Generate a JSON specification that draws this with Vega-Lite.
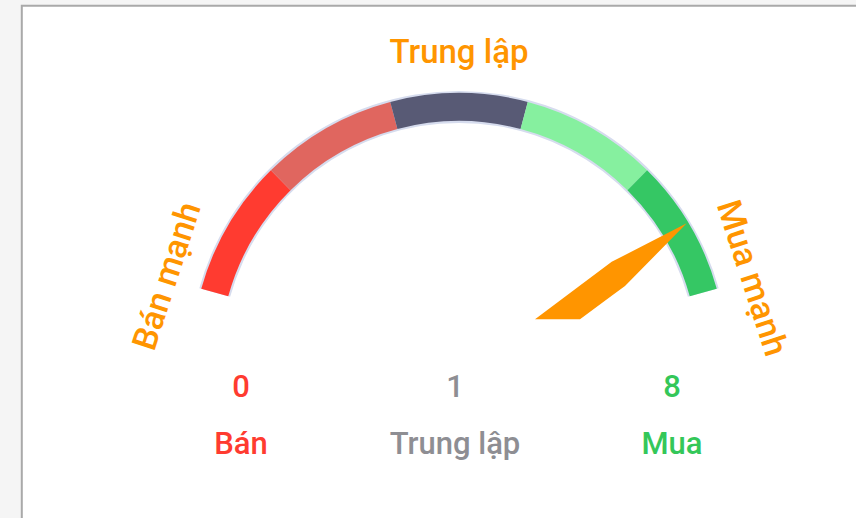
{
  "$schema": "https://vega.github.io/schema/vega-lite/v6.json",
  "width": 856,
  "height": 518,
  "autosize": "none",
  "padding": 0,
  "background": "#f5f5f5",
  "config": {"view": {"stroke": null}, "text": {"font": "Roboto"}},
  "datasets": {
    "card": [{"x1": -437.2, "x2": 430, "y1": 354.7, "y2": -180}],
    "track": [{"start": 0, "end": 5}],
    "segments": [
      {"zone": "Bán mạnh", "start": 0, "end": 1},
      {"zone": "Bán", "start": 1, "end": 2},
      {"zone": "Trung lập", "start": 2, "end": 3},
      {"zone": "Mua", "start": 3, "end": 4},
      {"zone": "Mua mạnh", "start": 4, "end": 5}
    ],
    "needle": [
      {"px": 76, "upper": 41.1, "lower": 41.1},
      {"px": 121, "upper": 74.9, "lower": 41.1},
      {"px": 152.7, "upper": 98.7, "lower": 64.6},
      {"px": 166, "upper": 105.5, "lower": 74.4},
      {"px": 227.7, "upper": 137.1, "lower": 137.1}
    ],
    "summary": [
      {"group": "Bán", "count": 0, "gx": -218},
      {"group": "Trung lập", "count": 1, "gx": -4},
      {"group": "Mua", "count": 8, "gx": 213}
    ]
  },
  "layer": [
    {
      "data": {"name": "card"},
      "mark": {"type": "rect", "fill": "white", "stroke": "#a9a9a9", "strokeWidth": 2, "clip": true},
      "encoding": {
        "x": {"field": "x1", "type": "quantitative", "scale": {"domain": [-459, 397], "nice": false, "zero": false}, "axis": null},
        "x2": {"field": "x2"},
        "y": {"field": "y1", "type": "quantitative", "scale": {"domain": [-157.6, 360.4], "nice": false, "zero": false}, "axis": null},
        "y2": {"field": "y2"}
      }
    },
    {
      "data": {"name": "track"},
      "mark": {"type": "arc", "outerRadius": 269.5, "innerRadius": 237.5, "color": "#d6dcee"},
      "encoding": {
        "x": {"datum": 0, "type": "quantitative", "scale": {"domain": [-459, 397], "nice": false, "zero": false}, "axis": null},
        "y": {"datum": 0, "type": "quantitative", "scale": {"domain": [-157.6, 360.4], "nice": false, "zero": false}, "axis": null},
        "theta": {"field": "start", "type": "quantitative", "stack": null, "scale": {"domain": [0, 5], "range": [-1.3, 1.3]}},
        "theta2": {"field": "end"}
      }
    },
    {
      "data": {"name": "segments"},
      "mark": {"type": "arc", "outerRadius": 267.5, "innerRadius": 239.5},
      "encoding": {
        "x": {"datum": 0, "type": "quantitative", "scale": {"domain": [-459, 397], "nice": false, "zero": false}, "axis": null},
        "y": {"datum": 0, "type": "quantitative", "scale": {"domain": [-157.6, 360.4], "nice": false, "zero": false}, "axis": null},
        "theta": {"field": "start", "type": "quantitative", "stack": null, "scale": {"domain": [0, 5], "range": [-1.3, 1.3]}},
        "theta2": {"field": "end"},
        "color": {
          "field": "zone", "type": "nominal", "legend": null,
          "scale": {"domain": ["Bán mạnh", "Bán", "Trung lập", "Mua", "Mua mạnh"], "range": ["#ff3b30", "#e0665f", "#585a75", "#86f09f", "#35c764"]}
        }
      }
    },
    {
      "data": {"name": "needle"},
      "mark": {"type": "area", "color": "#ff9500"},
      "encoding": {
        "x": {"field": "px", "type": "quantitative", "scale": {"domain": [-459, 397], "nice": false, "zero": false}, "axis": null},
        "y": {"field": "upper", "type": "quantitative", "scale": {"domain": [-157.6, 360.4], "nice": false, "zero": false}, "axis": null},
        "y2": {"field": "lower"}
      }
    },
    {
      "data": {"values": [{"label": "Trung lập"}]},
      "mark": {"type": "text", "fontSize": 33, "fontWeight": 500, "color": "#ff9500", "align": "center", "baseline": "middle"},
      "encoding": {
        "x": {"datum": 0, "type": "quantitative", "scale": {"domain": [-459, 397], "nice": false, "zero": false}, "axis": null},
        "y": {"datum": 307, "type": "quantitative", "scale": {"domain": [-157.6, 360.4], "nice": false, "zero": false}, "axis": null},
        "text": {"field": "label"}
      }
    },
    {
      "data": {"values": [{"label": "Bán mạnh"}]},
      "mark": {"type": "text", "fontSize": 34, "fontWeight": 500, "color": "#ff9500", "align": "center", "baseline": "middle", "angle": -72},
      "encoding": {
        "x": {"datum": -291, "type": "quantitative", "scale": {"domain": [-459, 397], "nice": false, "zero": false}, "axis": null},
        "y": {"datum": 84, "type": "quantitative", "scale": {"domain": [-157.6, 360.4], "nice": false, "zero": false}, "axis": null},
        "text": {"field": "label"}
      }
    },
    {
      "data": {"values": [{"label": "Mua mạnh"}]},
      "mark": {"type": "text", "fontSize": 34, "fontWeight": 500, "color": "#ff9500", "align": "center", "baseline": "middle", "angle": 72},
      "encoding": {
        "x": {"datum": 292, "type": "quantitative", "scale": {"domain": [-459, 397], "nice": false, "zero": false}, "axis": null},
        "y": {"datum": 82, "type": "quantitative", "scale": {"domain": [-157.6, 360.4], "nice": false, "zero": false}, "axis": null},
        "text": {"field": "label"}
      }
    },
    {
      "data": {"name": "summary"},
      "mark": {"type": "text", "fontSize": 31, "fontWeight": 500, "align": "center", "baseline": "middle"},
      "encoding": {
        "x": {"field": "gx", "type": "quantitative", "scale": {"domain": [-459, 397], "nice": false, "zero": false}, "axis": null},
        "y": {"datum": -28, "type": "quantitative", "scale": {"domain": [-157.6, 360.4], "nice": false, "zero": false}, "axis": null},
        "text": {"field": "count"},
        "color": {"field": "group", "type": "nominal", "legend": null, "scale": {"domain": ["Bán", "Trung lập", "Mua"], "range": ["#ff3b30", "#8e8e93", "#34c759"]}}
      }
    },
    {
      "data": {"name": "summary"},
      "mark": {"type": "text", "fontSize": 31, "fontWeight": 500, "align": "center", "baseline": "middle"},
      "encoding": {
        "x": {"field": "gx", "type": "quantitative", "scale": {"domain": [-459, 397], "nice": false, "zero": false}, "axis": null},
        "y": {"datum": -85, "type": "quantitative", "scale": {"domain": [-157.6, 360.4], "nice": false, "zero": false}, "axis": null},
        "text": {"field": "group"},
        "color": {"field": "group", "type": "nominal", "legend": null, "scale": {"domain": ["Bán", "Trung lập", "Mua"], "range": ["#ff3b30", "#8e8e93", "#34c759"]}}
      }
    }
  ],
  "resolve": {"scale": {"color": "independent"}}
}
